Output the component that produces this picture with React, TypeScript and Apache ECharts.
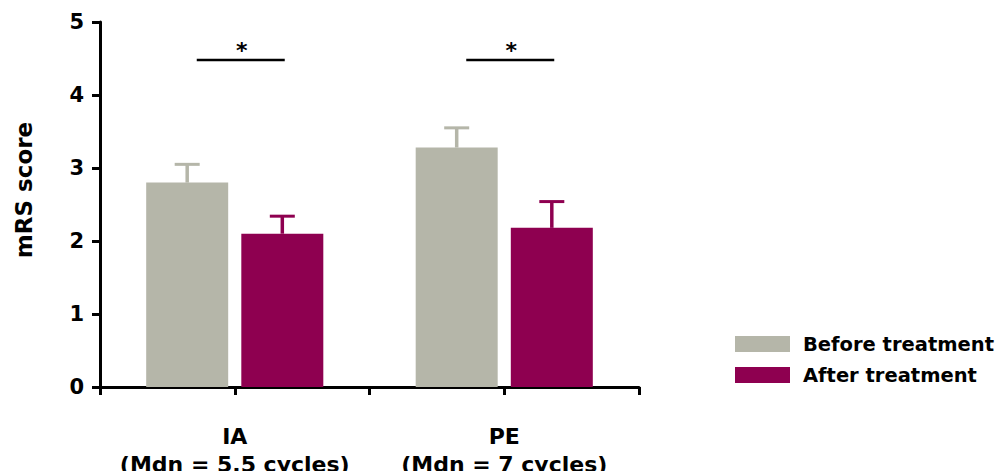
import React, { useEffect, useRef } from "react";
import * as echarts from "echarts";

const categories = ["IA", "PE"];
const categorySubtitles = ["(Mdn = 5.5 cycles)", "(Mdn = 7 cycles)"];
const seriesNames = ["Before treatment", "After treatment"];
const beforeMeans = [2.8, 3.28];
const beforeErrors = [0.25, 0.27];
const afterMeans = [2.1, 2.18];
const afterErrors = [0.24, 0.36];
const significanceLevel = [4.48, 4.48];
const significanceMarks = ["*", "*"];
const yMin = 0;
const yMax = 5;
const yInterval = 1;

const FONT = "DejaVu Sans";
const BEFORE_COLOR = "#b5b6a9";
const AFTER_COLOR = "#8e0050";
const BAR_WIDTH = 82;
const BAR_GAP = 0.16;

export default function App() {
  const ref = useRef<HTMLDivElement>(null);

  useEffect(() => {
    if (!ref.current) return;
    const chart = echarts.init(ref.current, undefined, { renderer: "svg" });
    const pitch = BAR_WIDTH * (1 + BAR_GAP);

    const errorSeries = (name: string, means: number[], errs: number[], color: string, side: number) => ({
      type: "custom",
      name,
      xAxisIndex: 0,
      yAxisIndex: 0,
      z: 1,
      data: means.map((m, i) => [i, m, errs[i]]),
      renderItem: (params: any, api: any) => {
        const cat = api.value(0);
        const mean = api.value(1);
        const err = api.value(2);
        const base = api.coord([cat, mean]);
        const top = api.coord([cat, mean + err]);
        const x = base[0] + (side * pitch) / 2;
        return {
          type: "group",
          children: [
            { type: "line", shape: { x1: x, y1: base[1], x2: x, y2: top[1] }, style: { stroke: color, lineWidth: 3.5 } },
            { type: "line", shape: { x1: x - 12.5, y1: top[1], x2: x + 12.5, y2: top[1] }, style: { stroke: color, lineWidth: 3 } },
          ],
        };
      },
    });

    chart.setOption({
      animation: false,
      backgroundColor: "#ffffff",
      grid: { left: 100, right: 360, top: 22, bottom: 84, containLabel: false, outerBoundsMode: "none" },
      legend: {
        orient: "vertical",
        left: 735,
        top: 334,
        padding: 0,
        itemWidth: 55,
        itemHeight: 16,
        itemGap: 11,
        icon: "rect",
        data: seriesNames,
        textStyle: { fontFamily: FONT, fontWeight: "bold", fontSize: 19.5, color: "#000", lineHeight: 20, padding: [0, 0, 0, 8] },
      },
      xAxis: [
        {
          type: "category",
          data: categories,
          position: "bottom",
          axisLine: { show: true, lineStyle: { color: "#000", width: 3 } },
          axisTick: { show: false },
          axisLabel: {
            interval: 0,
            margin: 35,
            fontFamily: FONT,
            fontWeight: "bold",
            fontSize: 22,
            lineHeight: 28,
            color: "#000",
            formatter: (v: string) => {
              const i = categories.indexOf(v);
              return v + "\n" + categorySubtitles[i];
            },
          },
          splitLine: { show: false },
        },
        {
          type: "value",
          min: 0,
          max: 4,
          interval: 1,
          position: "bottom",
          offset: 0,
          axisLine: { show: false },
          axisTick: { show: true, length: 8, lineStyle: { color: "#000", width: 3 } },
          axisLabel: { show: false },
          splitLine: { show: false },
        },
      ],
      yAxis: {
        type: "value",
        min: yMin,
        max: yMax,
        interval: yInterval,
        axisLine: { show: true, lineStyle: { color: "#000", width: 3 } },
        axisTick: { show: true, length: 8, lineStyle: { color: "#000", width: 3 } },
        axisLabel: { margin: 16, fontFamily: FONT, fontWeight: "bold", fontSize: 21, color: "#000" },
        splitLine: { show: false },
      },
      graphic: [
        {
          type: "text",
          x: 24,
          y: 190,
          rotation: Math.PI / 2,
          style: {
            text: "mRS score",
            fontFamily: FONT,
            fontWeight: "bold",
            fontSize: 23,
            fill: "#000",
            align: "center",
            verticalAlign: "middle",
          },
        },
      ],
      series: [
        {
          type: "bar",
          name: seriesNames[0],
          data: beforeMeans,
          barWidth: BAR_WIDTH,
          barGap: BAR_GAP * 100 + "%",
          itemStyle: { color: BEFORE_COLOR },
          z: 2,
        },
        {
          type: "bar",
          name: seriesNames[1],
          data: afterMeans,
          barWidth: BAR_WIDTH,
          barGap: BAR_GAP * 100 + "%",
          itemStyle: { color: AFTER_COLOR },
          z: 2,
        },
        errorSeries("before-error", beforeMeans, beforeErrors, BEFORE_COLOR, -1),
        errorSeries("after-error", afterMeans, afterErrors, AFTER_COLOR, 1),
        {
          type: "custom",
          name: "significance",
          xAxisIndex: 0,
          yAxisIndex: 0,
          data: significanceLevel.map((v, i) => [i, v]),
          renderItem: (params: any, api: any) => {
            const i = params.dataIndex;
            const p = api.coord([api.value(0), api.value(1)]);
            return {
              type: "group",
              children: [
                { type: "line", shape: { x1: p[0] - 38, y1: p[1], x2: p[0] + 50, y2: p[1] }, style: { stroke: "#000", lineWidth: 2.5 } },
                {
                  type: "text",
                  x: p[0] + 7,
                  y: p[1] - 9,
                  style: {
                    text: significanceMarks[i],
                    fontFamily: FONT,
                    fontWeight: "bold",
                    fontSize: 22,
                    fill: "#000",
                    align: "center",
                    verticalAlign: "middle",
                  },
                },
              ],
            };
          },
        },
      ],
    });

    return () => chart.dispose();
  }, []);

  return (
    <div
      ref={ref}
      style={{ position: "absolute", left: 0, top: 0, width: 999, height: 471, background: "#fff" }}
    />
  );
}
